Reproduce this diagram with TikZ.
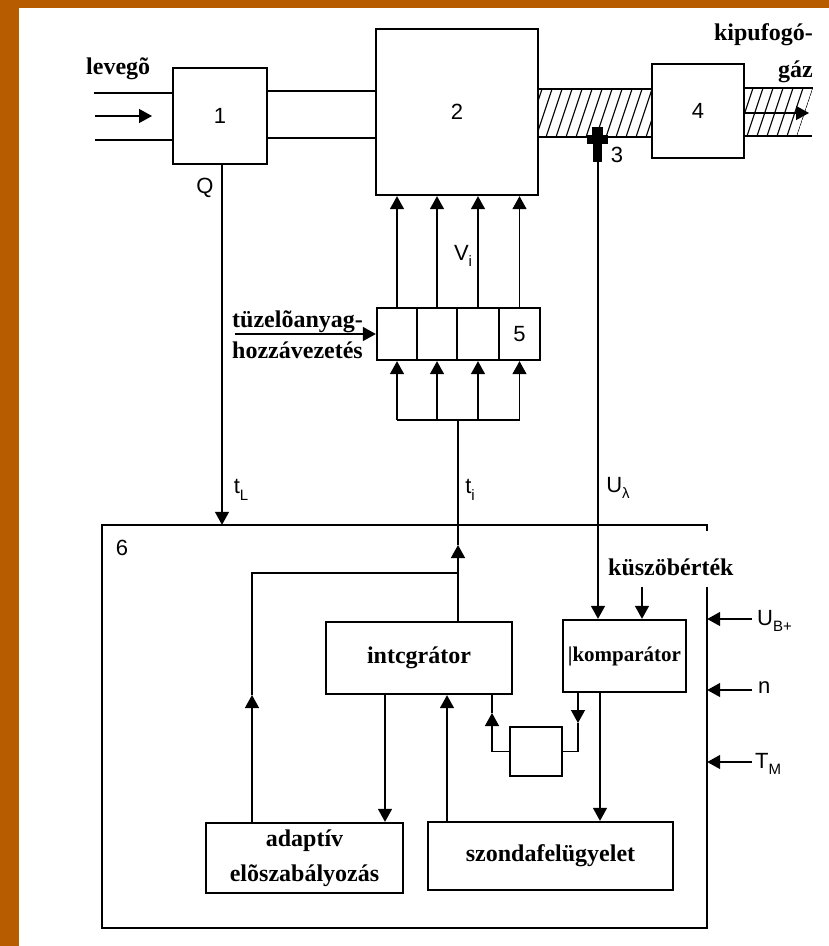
\documentclass[tikz,border=0pt]{standalone}
\usepackage{fontspec}
\setmainfont{Liberation Serif}
\newfontfamily\sans{Liberation Sans}
\usetikzlibrary{arrows.meta}
\newcommand{\sbs}[1]{\raisebox{-0.3em}{\fontsize{15}{16}\selectfont #1}}
\definecolor{slideor}{RGB}{184,92,0}
\begin{document}
\begin{tikzpicture}[x=1pt,y=-1pt,
  blk/.style={draw, line width=2.3pt, inner sep=0pt, align=center},
  lab/.style={font=\sans\fontsize{22}{24}\selectfont, inner sep=0pt},
  bt/.style={font=\bfseries\fontsize{24}{26}\selectfont, inner sep=0pt, align=center},
  ln/.style={line width=1.4pt},
  arr/.style={ln, -{Triangle[length=13pt,width=14pt]}},
  tube/.style={line width=1.8pt},
  hatch/.style={line width=1.1pt}]
\useasboundingbox (0,0) rectangle (829,946);
\fill[slideor] (0,0) rectangle (829,946);
\fill[white] (19,8) rectangle (829,946);

% main boxes
\node[blk, lab, minimum width=94pt, minimum height=96pt] (b1) at (220,116) {1};
\node[blk, lab, minimum width=162pt, minimum height=166pt] (b2) at (457,112) {2};
\node[blk, lab, minimum width=92pt, minimum height=94pt] (b4) at (698,111) {4};
\node[blk, minimum width=40pt, minimum height=52pt] (c1) at (397,334) {};
\node[blk, minimum width=40pt, minimum height=52pt] (c2) at (437,334) {};
\node[blk, minimum width=42pt, minimum height=52pt] (c3) at (478,334) {};
\node[blk, lab, minimum width=41pt, minimum height=52pt] (c4) at (519.5,334) {5};
\node[minimum width=605pt, minimum height=403pt, inner sep=0pt] (b6) at (404.5,726.5) {};
\node[blk, bt, minimum width=186pt, minimum height=72pt] (integ) at (419,658) {intcgrátor};
\node[blk, bt, font=\bfseries\fontsize{21}{24}\selectfont, minimum width=123pt, minimum height=72pt] (komp) at (624.5,656) {|komparátor};
\node[blk, minimum width=52pt, minimum height=49pt] (sm) at (536,751.5) {};
\node[blk, bt, font=\bfseries\fontsize{24}{35}\selectfont, minimum width=197pt, minimum height=70pt] (adapt) at (304.5,858) {adaptív\\elõszabályozás};
\node[blk, bt, minimum width=245pt, minimum height=68pt] (szonda) at (550.5,856) {szondafelügyelet};

% box 6 frame (gap on the right side)
\draw[line width=2.3pt] ([yshift=-6pt]b6.north east) -- (b6.north east) -- (b6.north west)
  -- (b6.south west) -- (b6.south east) -- (b6.east |- 0,587);
\node[lab] (l6) at (122,548) {6};

% air inlet
\draw[tube] (94,93) -- (b1.west |- 0,93);
\draw[tube] (95,140) -- (b1.west |- 0,140);
\coordinate (air) at (95,116);
\coordinate (airT) at (152,116);
\draw[arr] (air) -- (airT);
\node[bt, anchor=base west] (tlev) at (86,74) {levegõ};
% tube 1-2
\draw[tube] (b1.east |- 0,91) -- (b2.west |- 0,91);
\draw[tube] (b1.east |- 0,138) -- (b2.west |- 0,138);

% hatched exhaust 2-4
\begin{scope}
  \clip (b2.east |- 0,89) rectangle (b4.west |- 0,137);
  \foreach \i in {0,...,12} \draw[hatch] (526+\i*10,137) -- ++(16,-48);
\end{scope}
\draw[tube] (b2.east |- 0,89) -- (b4.west |- 0,89);
\draw[tube] (b2.east |- 0,137) -- (b4.west |- 0,137);
% hatched exhaust after 4
\begin{scope}
  \clip (744,88) -- (813,88) -- (797,136) -- (744,136) -- cycle;
  \foreach \i in {-2,...,5} \draw[hatch] (747+\i*10,136) -- ++(16,-48);
\end{scope}
\draw[tube] (b4.east |- 0,88) -- (813,88);
\draw[tube] (b4.east |- 0,136) -- (812,136);
\coordinate (exh) at (809,113);
\draw[arr] (b4.east |- exh) -- (exh);
\node[bt, anchor=base east] (tkip) at (813,40) {kipufogó-};
\node[bt, anchor=base east] (tgaz) at (813,77) {gáz};

% sensor 3
\fill (592,127) rectangle (603,136);
\fill (587,135) rectangle (608,144);
\fill (593,143) rectangle (602,162);
\coordinate (sens) at (598,162);
\node[lab] (l3) at (617,155) {3};
\draw[arr] (sens) -- (sens |- komp.north);
\node[lab] (lUl) at (618,488) {U\sbs{λ}};

% injectors
\foreach \c in {c1,c2,c3,c4} \draw[arr] (\c.north) -- (\c.north |- b2.south);
\node[lab] (lVi) at (463,256) {V\sbs{i}};
\coordinate (fuel) at (235,334);
\draw[arr] (fuel) -- (c1.west);
\node[bt, anchor=base west] (tfu1) at (232,327) {tüzelõanyag-};
\node[bt, anchor=base west] (tfu2) at (232,358) {hozzávezetés};

\coordinate (bar) at (458,420);
\draw[ln] (c1.south |- bar) -- (c4.south |- bar);
\foreach \c in {c1,c2,c3,c4} \draw[arr] (\c.south |- bar) -- (\c.south);

% t_i path
\coordinate (J) at (458,573);
\coordinate (tiA) at (458,545);
\draw[ln] (integ.north -| J) -- (J);
\draw[arr] (J) -- (tiA);
\draw[ln] (tiA) -- (bar);
\node[lab] (lti) at (470,490) {t\sbs{i}};
\coordinate (aA) at (252,695);
\draw[arr] (adapt.north -| aA) -- (aA);
\draw[ln] (aA) |- (J);

% Q / t_L
\coordinate (q0) at (222,164);
\draw[arr] (q0) -- (q0 |- b6.north);
\node[lab] (lQ) at (205,188) {Q};
\node[lab] (ltL) at (241,490) {t\sbs{L}};

% inner connections
\draw[arr] (integ.south -| 385,0) -- (adapt.north -| 385,0);
\draw[arr] (szonda.north -| 447,0) -- (integ.south -| 447,0);
\coordinate (sL) at (492,713);
\draw[arr] (sm.west) -| (sL);
\draw[ln] (sL) -- (integ.south -| sL);
\coordinate (sR) at (578,723);
\draw[arr] (komp.south -| sR) -- (sR);
\draw[ln] (sR) |- (sm.east);
\draw[arr] (komp.south -| 600,0) -- (szonda.north -| 600,0);
\coordinate (kz) at (642,587);
\draw[arr] (kz) -- (komp.north -| kz);
\node[bt, anchor=base west] (tkz) at (608,575) {küszöbérték};

% side inputs
\coordinate (ub) at (752,619);
\draw[arr] (ub) -- (b6.east |- ub);
\node[lab, anchor=west] (lub) at (757,621) {U\sbs{B+}};
\coordinate (nn) at (752,690);
\draw[arr] (nn) -- (b6.east |- nn);
\node[lab, anchor=west] (ln) at (758,688) {n};
\coordinate (tm) at (752,762);
\draw[arr] (tm) -- (b6.east |- tm);
\node[lab, anchor=west] (ltm) at (755,764) {T\sbs{M}};
\end{tikzpicture}
\end{document}
